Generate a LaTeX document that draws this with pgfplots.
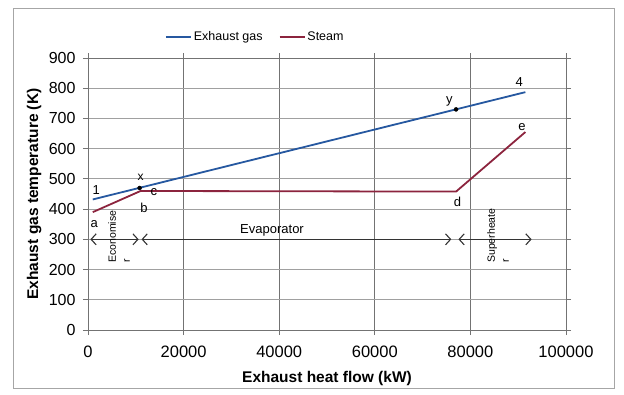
\documentclass[border=0pt]{standalone}
\usepackage{fontspec}
\setmainfont{Liberation Sans}
\usepackage{pgfplots}
\pgfplotsset{compat=1.18}
\usetikzlibrary{arrows.meta}

\definecolor{gasblue}{RGB}{38,88,160}
\definecolor{steamred}{RGB}{140,36,62}
\definecolor{gridgray}{RGB}{160,160,160}
\definecolor{vgridgray}{RGB}{115,115,115}

\begin{document}
\begin{tikzpicture}[x=1pt,y=1pt]
\path[use as bounding box] (0,0) rectangle (624,394);
% chart frame
\draw[gray!70, line width=0.8pt] (13,6) rectangle (614,386);

\begin{axis}[
  at={(88pt,64pt)}, anchor=south west,
  scale only axis, width=478pt, height=272pt,
  xmin=0, xmax=100000, ymin=0, ymax=900,
  xtick={0,20000,...,100000}, ytick={0,100,...,900},
  scaled x ticks=false,
  /pgf/number format/assume math mode=true,
  xticklabel style={/pgf/number format/set thousands separator={}, /pgf/number format/fixed,
    font=\fontsize{16.5}{18}\selectfont, yshift=-7pt},
  yticklabel style={font=\fontsize{16}{18}\selectfont, xshift=-4pt},
  tick align=outside, major tick length=5pt,
  tick style={vgridgray, line width=0.8pt},
  grid=major,
  major x grid style={vgridgray, line width=0.8pt},
  major y grid style={gridgray, line width=0.8pt},
  axis line style={vgridgray, line width=0.8pt},
  xlabel={\textbf{Exhaust heat flow (kW)}},
  ylabel={\textbf{Exhaust gas temperature (K)}},
  label style={font=\fontsize{15.5}{17}\selectfont},
  xlabel style={at={(axis description cs:0.5,0)}, anchor=north, yshift=-38pt},
  ylabel style={at={(axis description cs:0,0.5)}, anchor=south, yshift=43pt},
  legend style={draw=none, fill=none, at={(0.35,1.077)}, anchor=center,
    font=\fontsize{12.5}{14}\selectfont, legend columns=2,
    /tikz/every even column/.append style={column sep=14pt}},
  legend image code/.code={\draw[#1] (0pt,0pt) -- (25pt,0pt);},
  clip=false,
]
\addplot[gasblue, line width=1.8pt] coordinates {(1000,432) (91500,787)};
\addlegendentry{Exhaust gas}
\addplot[steamred, line width=1.8pt] coordinates {(1000,390) (11000,460) (77000,458) (91500,655)};
\addlegendentry{Steam}

% state points x and y on the gas line
\addplot[only marks, mark=*, mark size=2pt, black, forget plot] coordinates {(10800,470) (77000,730)};

% point labels
\node[font=\fontsize{13}{15}\selectfont] at (axis cs:1700,463) {1};
\node[font=\fontsize{13}{15}\selectfont] at (axis cs:1300,352) {a};
\node[font=\fontsize{12}{14}\selectfont] at (axis cs:11000,505) {x};
\node[font=\fontsize{13}{15}\selectfont] at (axis cs:11700,404) {b};
\node[font=\fontsize{13}{15}\selectfont] at (axis cs:13800,455) {c};
\node[font=\fontsize{13}{15}\selectfont] at (axis cs:75600,755) {y};
\node[font=\fontsize{13}{15}\selectfont] at (axis cs:77300,424) {d};
\node[font=\fontsize{13}{15}\selectfont] at (axis cs:90200,822) {4};
\node[font=\fontsize{13}{15}\selectfont] at (axis cs:90800,673) {e};

% heat exchanger sections
\tikzset{section/.style={{Straight Barb[length=5pt,width=11pt]}-{Straight Barb[length=5pt,width=11pt]}, line width=1.1pt, black!80}}
\draw[section] (axis cs:500,300) -- (axis cs:10600,300);
\draw[section] (axis cs:11200,300) -- (axis cs:76000,300);
\draw[section] (axis cs:77500,300) -- (axis cs:92800,300);
\node[font=\fontsize{13}{15}\selectfont, anchor=south] at (axis cs:38500,298) {Evaporator};
\node[rotate=90, align=left, anchor=north west, inner sep=0pt, font=\fontsize{10.5}{14}\selectfont]
  at (axis cs:4200,222) {Economise\\r};
\node[rotate=90, align=left, anchor=north west, inner sep=0pt, font=\fontsize{10.5}{14}\selectfont]
  at (axis cs:83500,222) {Superheate\\r};
\end{axis}
\end{tikzpicture}
\end{document}
